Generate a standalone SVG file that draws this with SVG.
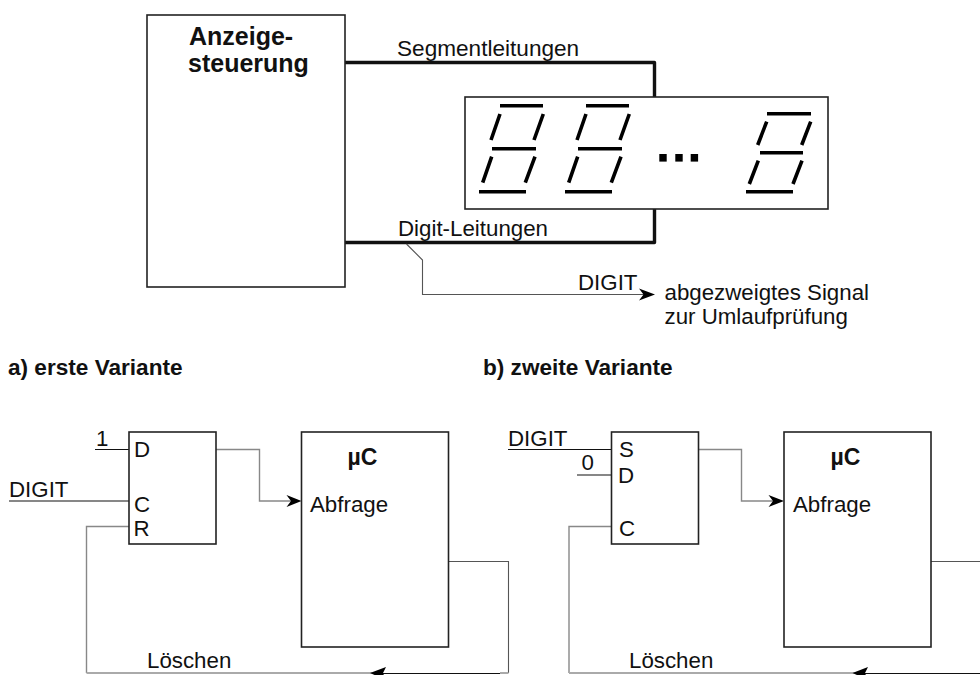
<svg xmlns="http://www.w3.org/2000/svg" width="980" height="675" viewBox="0 0 980 675">
<style>
text{font-family:"Liberation Sans",Arial,sans-serif;font-size:22.3px;fill:#111}
.b{font-weight:bold;font-size:22.6px}
.s{font-size:22.6px}
.t{font-size:25px}
.uc{font-size:23px}
.box{fill:#fff;stroke:#222;stroke-width:1.6}
.seg{stroke:#000;stroke-width:3.6;fill:none}
.thick{stroke:#111;stroke-width:3.4;fill:none;stroke-linejoin:round}
.k{stroke:#111;stroke-width:1.2;fill:none}
.g{stroke:#888;stroke-width:1.4;fill:none}
.dg{stroke:#555;stroke-width:1.1;fill:none}
.lg{stroke:#aaa;stroke-width:2;fill:none}
.ah{fill:#000;stroke:none}
</style>
<defs>
<g id="digit">
<path class="seg" d="M500 105.7H543M500 114L491 140M543.3 114L534 140M492 148.7H536M491.7 156.7L482.7 182.7M535 156.7L525.3 182.7M479 191.7H526"/>
</g>
</defs>
<g id="connectors">
<path class="thick" d="M345 62.5H654.5V98"/>
<path class="thick" d="M654.5 208V242.5H345"/>
<path class="dg" d="M406.5 244L422.5 260V294.5H645"/>
<path class="ah" d="M655 294.5L639 288.5L643.5 294.5L639 300.5Z"/>
<path class="g" d="M216 449.5H259.5V501H292"/>
<path class="ah" d="M301.5 501L286.5 495L291 501L286.5 507Z"/>
<path class="k" d="M95 449.5H129M9 501H129"/>
<path class="g" d="M129 526.5H86.5V673"/>
<path class="lg" d="M86.5 673H372"/>
<path class="dg" d="M448 561.5H508.5V673"/>
<path class="lg" d="M500 673H508.5"/>
<path class="k" d="M500 673.5H382"/>
<path class="ah" d="M370 673L386 667L383 673L386 680Z"/>
<path class="g" d="M698.5 449.5H741.5V501H775"/>
<path class="ah" d="M784 501L768.5 495L773 501L768.5 507Z"/>
<path class="k" d="M508 449.5H612M577 475H612"/>
<path class="g" d="M612 526.5H569V673"/>
<path class="lg" d="M569 673H855"/>
<path class="dg" d="M931 561.5H980"/>
<path class="k" d="M980 673.5H865"/>
<path class="ah" d="M852.5 673L868 667L865 673L868 680Z"/>
</g>
<g id="controller">
<rect class="box" x="147" y="15" width="198" height="272"/>
<text class="b t" x="189" y="45">Anzeige-</text>
<text class="b t" x="188" y="72">steuerung</text>
</g>
<g id="display">
<rect class="box" x="465" y="97" width="363" height="112"/>
<use href="#digit"/>
<use href="#digit" x="86"/>
<path class="seg" d="M767 113.7H811M766.7 121.7L757.7 145M810.7 121.7L801.7 145M760 152.7H803M758.3 160.7L749.3 184M802 160.7L793 184M746 191.7H793"/>
<rect x="659.3" y="154" width="7.4" height="7.6"/>
<rect x="675.3" y="154" width="7.4" height="7.6"/>
<rect x="690.7" y="154" width="7.4" height="7.6"/>
</g>
<g id="labels-top">
<text class="s" x="397" y="55.5">Segmentleitungen</text>
<text x="398" y="235.5">Digit-Leitungen</text>
<text x="578" y="290">DIGIT</text>
<text x="664.5" y="300">abgezweigtes Signal</text>
<text x="664.5" y="324">zur Umlaufprüfung</text>
</g>
<g id="variant-a">
<text class="b" x="8" y="375">a) erste Variante</text>
<text x="9" y="496.5">DIGIT</text>
<text x="96" y="446">1</text>
<text x="147" y="668">Löschen</text>
</g>
<g id="ff-a">
<rect class="box" x="129" y="432" width="87" height="112"/>
<text x="134" y="457">D</text>
<text x="134" y="511.5">C</text>
<text x="133.5" y="535.5">R</text>
</g>
<g id="uc-a">
<rect class="box" x="301.5" y="432" width="147" height="215"/>
<text class="b uc" x="347.5" y="465">µC</text>
<text x="310" y="512">Abfrage</text>
</g>
<g id="variant-b">
<text class="b" x="483" y="375">b) zweite Variante</text>
<text x="508" y="446">DIGIT</text>
<text x="581.5" y="470">0</text>
<text x="629" y="668">Löschen</text>
</g>
<g id="ff-b">
<rect class="box" x="611.5" y="432" width="87" height="112"/>
<text x="619" y="456.5">S</text>
<text x="618" y="483">D</text>
<text x="619" y="535.5">C</text>
</g>
<g id="uc-b">
<rect class="box" x="784" y="432" width="147" height="215"/>
<text class="b uc" x="830.5" y="465">µC</text>
<text x="793" y="512">Abfrage</text>
</g>
</svg>
